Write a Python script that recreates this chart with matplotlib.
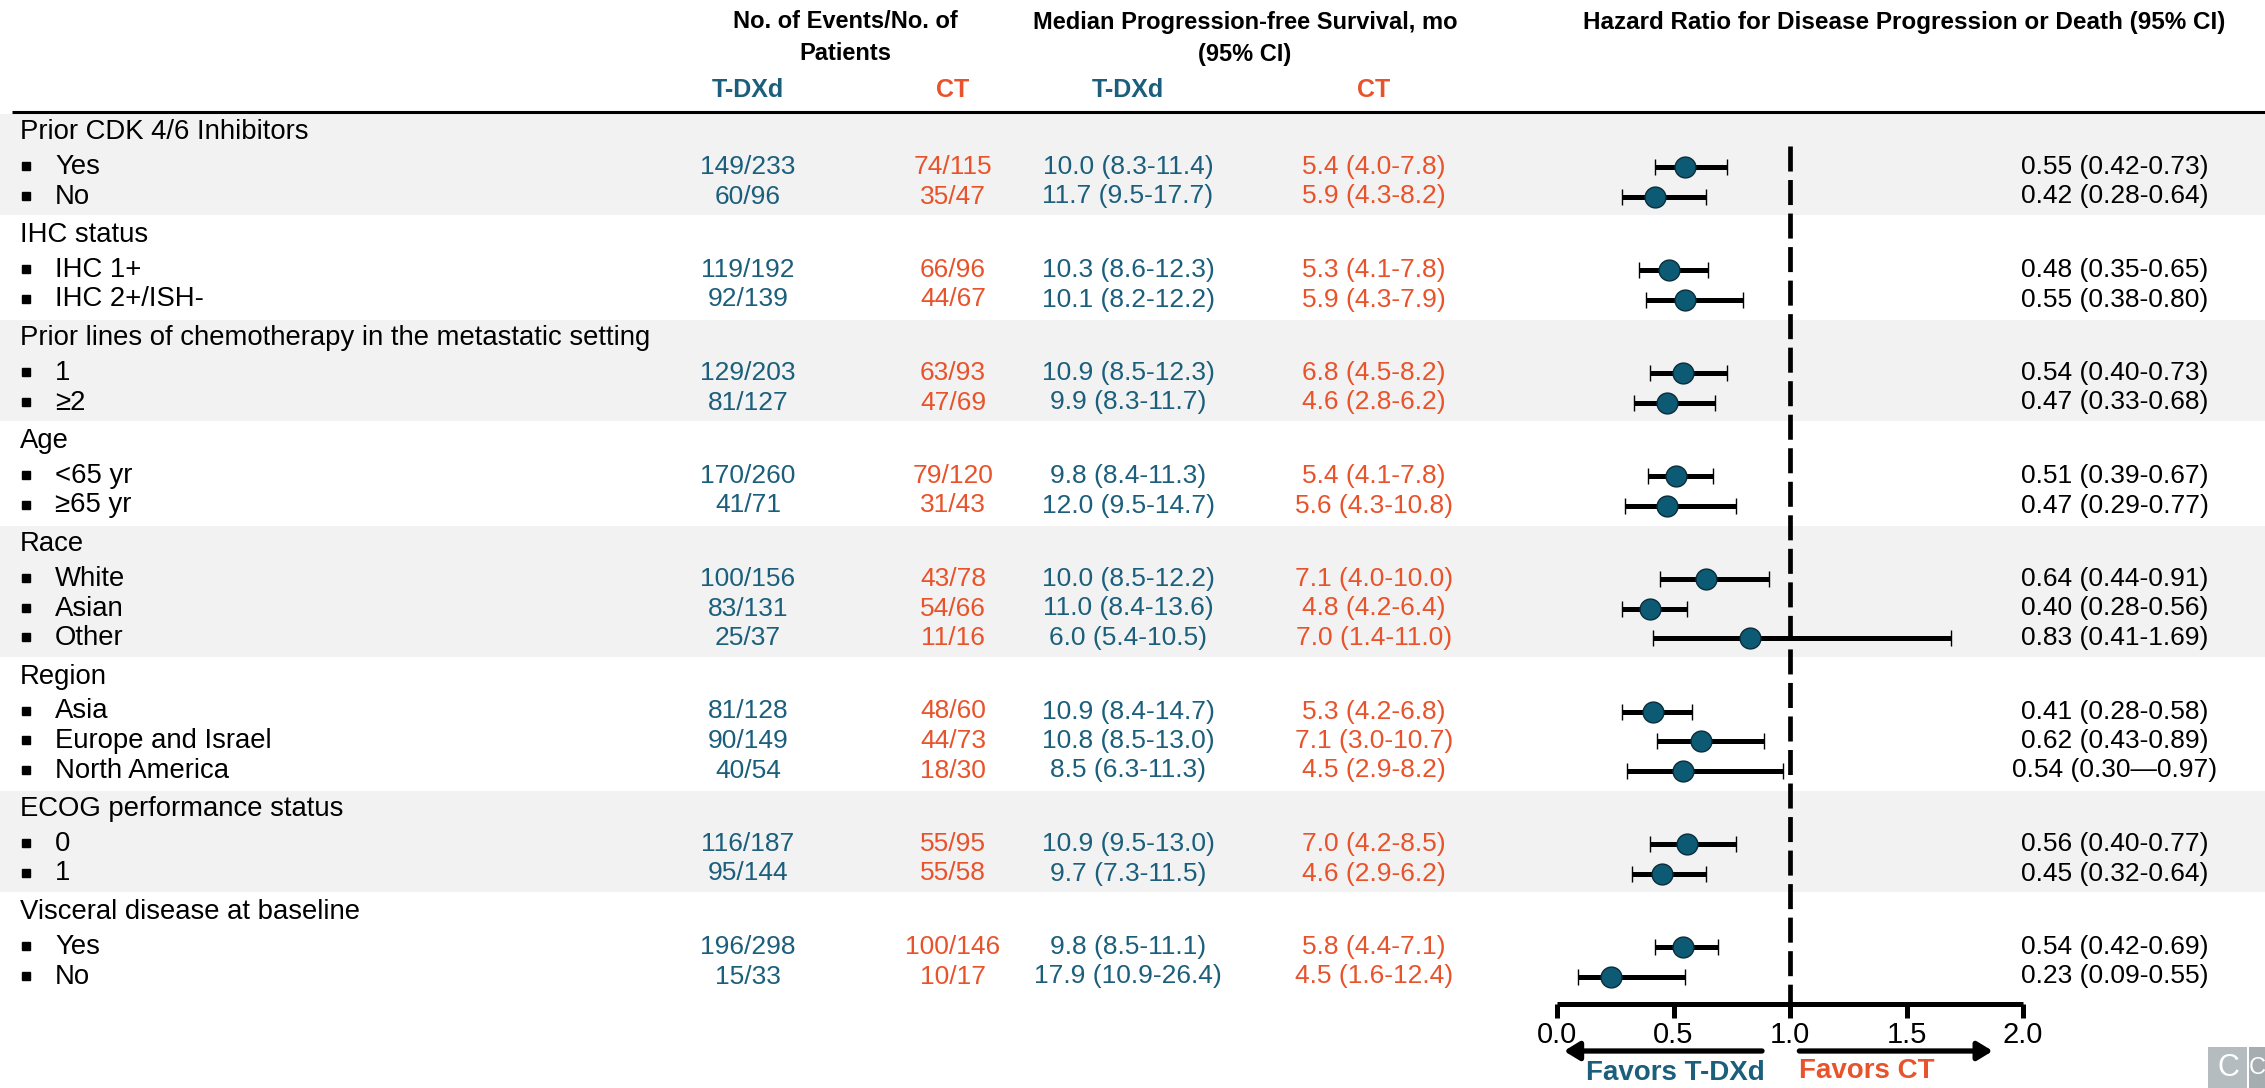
import numpy as np
import matplotlib
matplotlib.use("Agg")
import matplotlib.pyplot as plt
from matplotlib.patches import Rectangle

plt.rcParams['font.family'] = ['Liberation Sans Narrow', 'Liberation Sans', 'DejaVu Sans']

# ---------------------------------------------------------------------------
#                              Subgroup data
# ---------------------------------------------------------------------------
groups = ["Prior CDK 4/6 Inhibitors", "IHC status",
          "Prior lines of chemotherapy in the metastatic setting", "Age", "Race",
          "Region", "ECOG performance status", "Visceral disease at baseline"]
subgroups = [["Yes", "No"], ["IHC 1+", "IHC 2+/ISH-"], ["1", "≥2"],
             ["<65 yr", "≥65 yr"], ["White", "Asian", "Other"],
             ["Asia", "Europe and Israel", "North America"], ["0", "1"], ["Yes", "No"]]

events_tdxd = ["149/233", "60/96", "119/192", "92/139", "129/203", "81/127", "170/260",
               "41/71", "100/156", "83/131", "25/37", "81/128", "90/149", "40/54",
               "116/187", "95/144", "196/298", "15/33"]
events_ct = ["74/115", "35/47", "66/96", "44/67", "63/93", "47/69", "79/120", "31/43",
             "43/78", "54/66", "11/16", "48/60", "44/73", "18/30", "55/95", "55/58",
             "100/146", "10/17"]
pfs_tdxd = ["10.0 (8.3-11.4)", "11.7 (9.5-17.7)", "10.3 (8.6-12.3)", "10.1 (8.2-12.2)",
            "10.9 (8.5-12.3)", "9.9 (8.3-11.7)", "9.8 (8.4-11.3)", "12.0 (9.5-14.7)",
            "10.0 (8.5-12.2)", "11.0 (8.4-13.6)", "6.0 (5.4-10.5)", "10.9 (8.4-14.7)",
            "10.8 (8.5-13.0)", "8.5 (6.3-11.3)", "10.9 (9.5-13.0)", "9.7 (7.3-11.5)",
            "9.8 (8.5-11.1)", "17.9 (10.9-26.4)"]
pfs_ct = ["5.4 (4.0-7.8)", "5.9 (4.3-8.2)", "5.3 (4.1-7.8)", "5.9 (4.3-7.9)",
          "6.8 (4.5-8.2)", "4.6 (2.8-6.2)", "5.4 (4.1-7.8)", "5.6 (4.3-10.8)",
          "7.1 (4.0-10.0)", "4.8 (4.2-6.4)", "7.0 (1.4-11.0)", "5.3 (4.2-6.8)",
          "7.1 (3.0-10.7)", "4.5 (2.9-8.2)", "7.0 (4.2-8.5)", "4.6 (2.9-6.2)",
          "5.8 (4.4-7.1)", "4.5 (1.6-12.4)"]
hr = [0.55, 0.42, 0.48, 0.55, 0.54, 0.47, 0.51, 0.47, 0.64, 0.40, 0.83, 0.41, 0.62,
      0.54, 0.56, 0.45, 0.54, 0.23]
hr_lo = [0.42, 0.28, 0.35, 0.38, 0.40, 0.33, 0.39, 0.29, 0.44, 0.28, 0.41, 0.28, 0.43,
         0.30, 0.40, 0.32, 0.42, 0.09]
hr_hi = [0.73, 0.64, 0.65, 0.80, 0.73, 0.68, 0.67, 0.77, 0.91, 0.56, 1.69, 0.58, 0.89,
         0.97, 0.77, 0.64, 0.69, 0.55]
ci_dash = ["-"] * 13 + ["—"] + ["-"] * 4

hr_ticks = [0.0, 0.5, 1.0, 1.5, 2.0]

# colours
TEAL = "#1b5f7c"
ORANGE = "#e8532b"
DOT = "#0c5a74"
BAND = "#f2f2f2"

W, H = 2265, 1088
fig = plt.figure(figsize=(W / 100, H / 100), dpi=100)

# background axes in pixel units for the table part
ax = fig.add_axes([0, 0, 1, 1])
ax.set_xlim(0, W)
ax.set_ylim(H, 0)
ax.axis("off")

FS = 19
HFS = 17

# column headers
ax.text(845, 22, "No. of Events/No. of", ha="center", va="center", fontsize=HFS, fontweight="bold")
ax.text(845, 54, "Patients", ha="center", va="center", fontsize=HFS, fontweight="bold")
ax.text(1245, 22, "Median Progression-free Survival, mo", ha="center", va="center",
        fontsize=HFS, fontweight="bold")
ax.text(1245, 54, "(95% CI)", ha="center", va="center", fontsize=HFS, fontweight="bold")
ax.text(1904, 22, "Hazard Ratio for Disease Progression or Death (95% CI)", ha="center",
        va="center", fontsize=HFS + 0.5, fontweight="bold")

col_x = [748, 953, 1128, 1374]
for x, lab, c in zip(col_x, ["T-DXd", "CT", "T-DXd", "CT"], [TEAL, ORANGE, TEAL, ORANGE]):
    ax.text(x, 90, lab, ha="center", va="center", fontsize=18, fontweight="bold", color=c)

ax.plot([12, W], [112, 112], color="black", lw=2.2, solid_capstyle="butt")

# row layout: group header then items, alternating shaded bands
top = 112
row_y = []
for gi, (g, subs) in enumerate(zip(groups, subgroups)):
    block = 44 + 29.5 * len(subs)
    if gi % 2 == 0:
        ax.add_patch(Rectangle((0, top + 1.5), W, block - 1.5, color=BAND, zorder=0, lw=0))
    ax.text(20, top + 20, g, ha="left", va="center", fontsize=19.8)
    for k, s in enumerate(subs):
        y = top + 55 + 29.5 * k
        row_y.append(y)
        ax.plot(26, y - 1, marker="s", ms=5.5, color="black", ls="none")
        ax.text(55, y, s, ha="left", va="center", fontsize=19.8)
    top += block

for i, y in enumerate(row_y):
    ax.text(col_x[0], y, events_tdxd[i], ha="center", va="center", fontsize=FS, color=TEAL)
    ax.text(col_x[1], y, events_ct[i], ha="center", va="center", fontsize=FS, color=ORANGE)
    ax.text(col_x[2], y, pfs_tdxd[i], ha="center", va="center", fontsize=FS, color=TEAL)
    ax.text(col_x[3], y, pfs_ct[i], ha="center", va="center", fontsize=FS, color=ORANGE)
    lab = f"{hr[i]:.2f} ({hr_lo[i]:.2f}{ci_dash[i]}{hr_hi[i]:.2f})"
    ax.text(2115, y, lab, ha="center", va="center", fontsize=FS, color="black")

# ---------------------------------------------------------------------------
#                              Forest plot
# ---------------------------------------------------------------------------
x0, x2, axis_y = 1557, 2023, 1004
fx = fig.add_axes([x0 / W, (H - axis_y) / H, (x2 - x0) / W, axis_y / H])
fx.set_xlim(0, 2)
fx.set_ylim(axis_y, 0)
fx.patch.set_alpha(0)
for s in ["top", "left", "right"]:
    fx.spines[s].set_visible(False)
fx.spines["bottom"].set_linewidth(3.6)
fx.spines["bottom"].set_capstyle("butt")
fx.set_yticks([])
fx.set_xticks(hr_ticks)
fx.set_xticklabels([f"{t:.1f}" for t in hr_ticks], fontsize=21)
fx.tick_params(axis="x", length=10, width=3.6, pad=2)

fx.plot([1, 1], [146, axis_y], color="black", lw=3.4, ls=(0, (5.3, 1.8)), zorder=1)

err = np.array([np.array(hr) - np.array(hr_lo), np.array(hr_hi) - np.array(hr)])
fx.errorbar(hr, row_y, xerr=err, fmt="o", color="black", ecolor="black", elinewidth=3.6,
            capsize=5.8, capthick=3.6, ms=15, mfc=DOT, mec="#0a2c38", mew=1.0, zorder=3)

arrow = dict(arrowstyle="-|>,head_length=0.9,head_width=0.55", lw=3.8, color="black",
             shrinkA=0, shrinkB=0)
fx.annotate("", xy=(0.03, 1051), xytext=(0.88, 1051), arrowprops=arrow, annotation_clip=False)
fx.annotate("", xy=(1.87, 1051), xytext=(1.04, 1051), arrowprops=arrow, annotation_clip=False)
fx.text(0.51, 1073, "Favors T-DXd", ha="center", va="center", fontsize=20,
        fontweight="bold", color=TEAL, clip_on=False)
fx.text(1.33, 1071, "Favors CT", ha="center", va="center", fontsize=20,
        fontweight="bold", color=ORANGE, clip_on=False)

# corner badge
ax.add_patch(Rectangle((2208, 1047), 39, 41, color="#b4bcbf", lw=0))
ax.add_patch(Rectangle((2249, 1047), 16, 41, color="#a5adb0", lw=0))
ax.text(2228, 1068, "C", ha="center", va="center", fontsize=22, color="white")
ax.text(2257, 1068, "C", ha="center", va="center", fontsize=17, color="white")

fig.savefig("out.png", dpi=100)
